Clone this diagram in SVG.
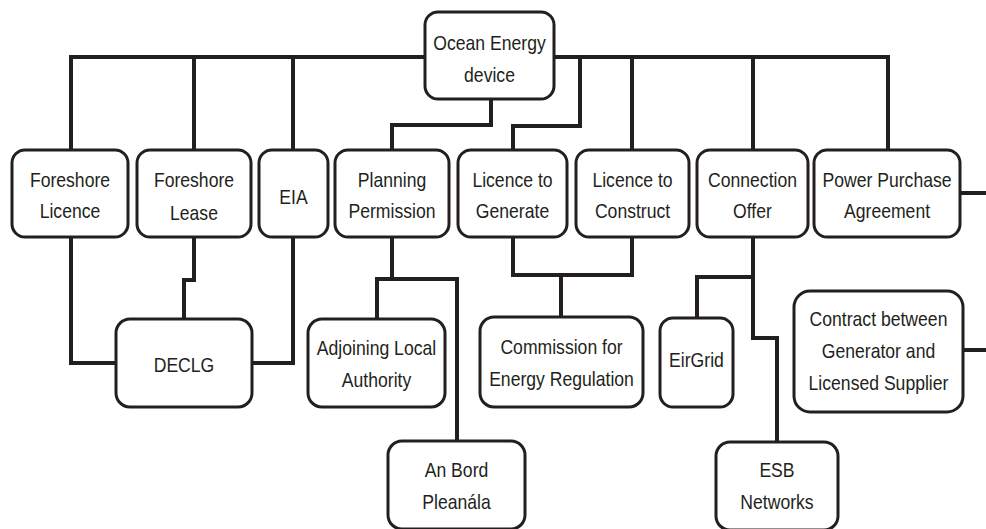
<svg xmlns="http://www.w3.org/2000/svg" width="986" height="529" viewBox="0 0 986 529">
<style>
.c{fill:none;stroke:#231f20;stroke-width:4;stroke-linejoin:miter;stroke-linecap:butt}
.b{fill:#fff;stroke:#231f20;stroke-width:3}
text{font-family:"Liberation Sans",Arial,sans-serif;font-size:20px;fill:#231f20;text-anchor:middle;transform-box:fill-box;transform-origin:center;transform:scaleX(0.88)}
</style>
<rect width="986" height="529" fill="#fff"/>
<g id="connectors">
<path class="c" d="M425,57 H71 V150"/>
<path class="c" d="M194,57 V150"/>
<path class="c" d="M293,57 V150"/>
<path class="c" d="M491,99 V125 H392 V150"/>
<path class="c" d="M554,57 H888 V150"/>
<path class="c" d="M580,57 V126 H513 V150"/>
<path class="c" d="M632,57 V150"/>
<path class="c" d="M753,57 V150"/>
<path class="c" d="M71,237 V363 H116"/>
<path class="c" d="M194,237 V280 H184 V319"/>
<path class="c" d="M293,237 V363 H252"/>
<path class="c" d="M392,237 V279 H377 V319"/>
<path class="c" d="M392,279 H457 V441"/>
<path class="c" d="M513,237 V275 H632 V237"/>
<path class="c" d="M561,275 V317"/>
<path class="c" d="M753,237 V277 H697 V318"/>
<path class="c" d="M753,277 V338 H777 V442"/>
<path class="c" d="M960,193 H986"/>
<path class="c" d="M963,350 H986"/>
</g>
<g id="ocean"><rect class="b" x="425" y="12" width="129" height="87" rx="13"/><text x="489.5" y="50">Ocean Energy</text><text x="489.5" y="82">device</text></g>
<g id="foreshore-licence"><rect class="b" x="12" y="150" width="116" height="87" rx="13"/><text x="70" y="187">Foreshore</text><text x="70" y="218">Licence</text></g>
<g id="foreshore-lease"><rect class="b" x="137" y="150" width="114" height="87" rx="13"/><text x="194" y="187">Foreshore</text><text x="194" y="220">Lease</text></g>
<g id="eia"><rect class="b" x="259" y="150" width="69" height="87" rx="13"/><text x="293.5" y="204">EIA</text></g>
<g id="planning"><rect class="b" x="335" y="150" width="114" height="87" rx="13"/><text x="392" y="187">Planning</text><text x="392" y="218">Permission</text></g>
<g id="licence-generate"><rect class="b" x="458" y="150" width="109" height="87" rx="13"/><text x="512.5" y="187">Licence to</text><text x="512.5" y="218">Generate</text></g>
<g id="licence-construct"><rect class="b" x="576" y="150" width="113" height="87" rx="13"/><text x="632.5" y="187">Licence to</text><text x="632.5" y="218">Construct</text></g>
<g id="connection-offer"><rect class="b" x="697" y="150" width="111" height="87" rx="13"/><text x="752.5" y="187">Connection</text><text x="752.5" y="218">Offer</text></g>
<g id="ppa"><rect class="b" x="814" y="150" width="146" height="87" rx="13"/><text x="887" y="187">Power Purchase</text><text x="887" y="218">Agreement</text></g>
<g id="declg"><rect class="b" x="116" y="319" width="136" height="88" rx="14"/><text x="184" y="372">DECLG</text></g>
<g id="adjoining"><rect class="b" x="308" y="319" width="137" height="88" rx="14"/><text x="376.5" y="355">Adjoining Local</text><text x="376.5" y="387">Authority</text></g>
<g id="an-bord"><rect class="b" x="388" y="441" width="137" height="88" rx="14"/><text x="456.5" y="477">An Bord</text><text x="456.5" y="509">Pleanála</text></g>
<g id="cer"><rect class="b" x="480" y="317" width="163" height="90" rx="14"/><text x="561.5" y="354">Commission for</text><text x="561.5" y="386">Energy Regulation</text></g>
<g id="eirgrid"><rect class="b" x="660" y="318" width="73" height="89" rx="13"/><text x="696.5" y="367">EirGrid</text></g>
<g id="esb"><rect class="b" x="716" y="442" width="122" height="88" rx="14"/><text x="777" y="477">ESB</text><text x="777" y="509">Networks</text></g>
<g id="contract"><rect class="b" x="794" y="291" width="169" height="121" rx="16"/><text x="878.5" y="326">Contract between</text><text x="878.5" y="358">Generator and</text><text x="878.5" y="390">Licensed Supplier</text></g>
</svg>
